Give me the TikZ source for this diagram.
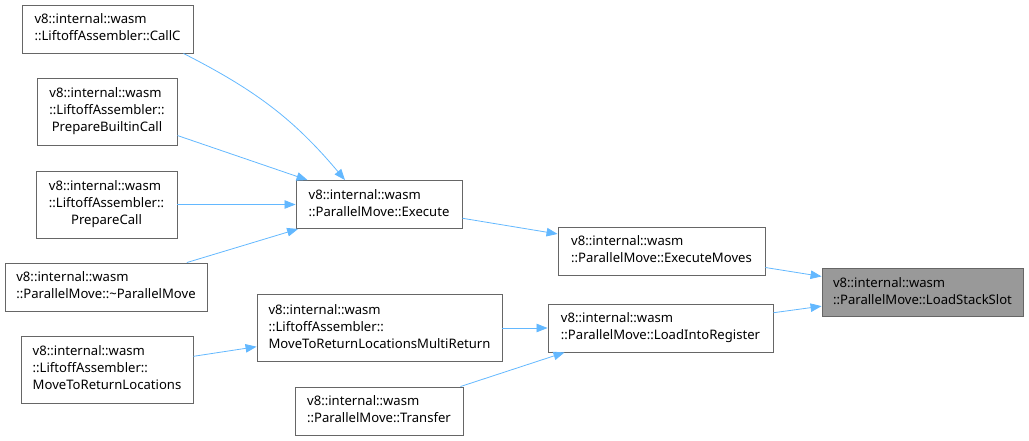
\documentclass[tikz,border=0pt]{standalone}
\usepackage{fontspec}
\setmainfont{Noto Sans}
\usetikzlibrary{arrows.meta}
\definecolor{edgeblue}{HTML}{63B8FF}
\definecolor{boxgray}{HTML}{666666}
\definecolor{hlfill}{HTML}{999999}
\newcommand{\lastln}[1]{\multicolumn{1}{@{}c@{}}{#1}}
\newcommand{\lbl}[1]{\renewcommand{\arraystretch}{1}\begin{tabular}{@{}l@{}}#1\end{tabular}}
\tikzset{
  fn/.style={draw=boxgray, line width=0.9pt, fill=white, inner sep=0pt,
    font=\fontsize{13.1}{17}\selectfont},
  hl/.style={fn, fill=hlfill},
  call/.style={draw=edgeblue, line width=0.8pt, -{Triangle[length=11pt,width=8.5pt]}}
}
\begin{document}
\begin{tikzpicture}[x=1pt,y=-1pt]
\useasboundingbox (0,0) rectangle (1029,441);
\node[fn, minimum width=171pt, minimum height=48pt] (callc) at (107.5,29)
  {\lbl{v8::internal::wasm\\\lastln{::LiftoffAssembler::CallC}}};
\node[fn, minimum width=140pt, minimum height=67pt] (pbc) at (107,111.5)
  {\lbl{v8::internal::wasm\\::LiftoffAssembler::\\\lastln{PrepareBuiltinCall}}};
\node[fn, minimum width=141pt, minimum height=67pt] (pc) at (106.5,204.5)
  {\lbl{v8::internal::wasm\\::LiftoffAssembler::\\\lastln{PrepareCall}}};
\node[fn, minimum width=202pt, minimum height=48pt] (dtor) at (106,287)
  {\lbl{v8::internal::wasm\\\lastln{::ParallelMove::\textasciitilde ParallelMove}}};
\node[fn, minimum width=172pt, minimum height=67pt] (mtrl) at (107,369.5)
  {\lbl{v8::internal::wasm\\::LiftoffAssembler::\\\lastln{MoveToReturnLocations}}};
\node[fn, minimum width=245pt, minimum height=67pt] (multi) at (379.5,328)
  {\lbl{v8::internal::wasm\\::LiftoffAssembler::\\\lastln{MoveToReturnLocationsMultiReturn}}};
\node[fn, minimum width=168pt, minimum height=48pt] (transfer) at (379,411)
  {\lbl{v8::internal::wasm\\\lastln{::ParallelMove::Transfer}}};
\node[fn, minimum width=166pt, minimum height=48pt] (exec) at (379,204.5)
  {\lbl{v8::internal::wasm\\\lastln{::ParallelMove::Execute}}};
\node[fn, minimum width=207pt, minimum height=48pt] (emoves) at (661.5,251)
  {\lbl{v8::internal::wasm\\\lastln{::ParallelMove::ExecuteMoves}}};
\node[fn, minimum width=225pt, minimum height=48pt] (lir) at (660.5,328)
  {\lbl{v8::internal::wasm\\\lastln{::ParallelMove::LoadIntoRegister}}};
\node[hl, minimum width=201pt, minimum height=48pt] (lss) at (922.5,292.5)
  {\lbl{v8::internal::wasm\\\lastln{::ParallelMove::LoadStackSlot}}};

\draw[call] ([xshift=-10pt]callc.south east) to[out=-27,in=130] ([xshift=-34pt]exec.north);
\draw[call] (pbc) -- (exec);
\draw[call] (pc) -- (exec);
\draw[call] (dtor) -- (exec);
\draw[call] (exec) -- (emoves);
\draw[call] (emoves) -- (lss);
\draw[call] (lir) -- (lss);
\draw[call] (multi) -- (lir);
\draw[call] (mtrl) -- (multi);
\draw[call] ([xshift=-3pt]transfer.north east) -- ([xshift=-96pt]lir.south);
\end{tikzpicture}
\end{document}
